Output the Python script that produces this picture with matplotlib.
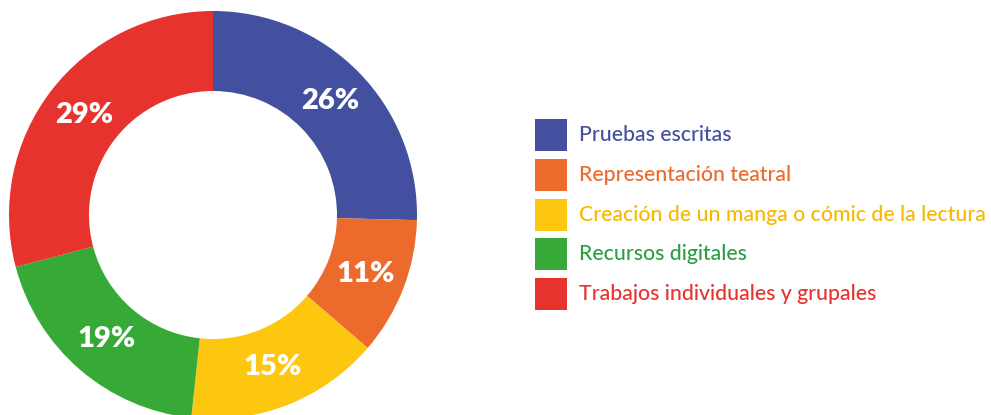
import matplotlib
matplotlib.use("Agg")
import matplotlib.pyplot as plt
import matplotlib.patches as mpatches
import numpy as np

categories = [
    "Pruebas escritas",
    "Representación teatral",
    "Creación de un manga o cómic de la lectura",
    "Recursos digitales",
    "Trabajos individuales y grupales",
]
# wedge sizes as measured on the ring; printed labels as shown
values = [25.4, 10.9, 15.4, 19.2, 29.1]
pct_labels = ["26%", "11%", "15%", "19%", "29%"]
colors = ["#42509F", "#EC6A2C", "#FDC70F", "#36A936", "#E6332D"]
text_colors = ["#42509F", "#EC6A2C", "#F7B800", "#2E9E45", "#E6332D"]

plt.rcParams['font.family'] = ['Lato', 'DejaVu Sans']

W, H = 991, 415
fig = plt.figure(figsize=(W / 100, H / 100), dpi=100)

# donut: center (213, 215) px, outer radius 204 px
cx, cy, r = 213, 215, 204
ax = fig.add_axes([(cx - r) / W, (H - cy - r) / H, 2 * r / W, 2 * r / H])
wedges, _ = ax.pie(
    values,
    colors=colors,
    startangle=90,
    counterclock=False,
    radius=1.0,
    wedgeprops=dict(width=80 / 204, linewidth=0),
)
for w, lab in zip(wedges, pct_labels):
    ang = np.deg2rad((w.theta1 + w.theta2) / 2)
    ax.text(0.80 * np.cos(ang), 0.80 * np.sin(ang), lab, color="white",
            fontsize=21, fontweight="heavy", ha="center", va="center")
ax.set_xlim(-1, 1)
ax.set_ylim(-1, 1)
ax.set_aspect("auto")
ax.axis("off")

# legend drawn by hand in pixel coordinates
lax = fig.add_axes([0, 0, 1, 1])
lax.set_xlim(0, W)
lax.set_ylim(H, 0)
lax.axis("off")
for i, (cat, col, tcol) in enumerate(zip(categories, colors, text_colors)):
    y0 = 119 + i * 39.8
    lax.add_patch(mpatches.Rectangle((535, y0), 32, 32, color=col, lw=0))
    lax.text(579, y0 + 16, cat, color=tcol, fontsize=15.3, fontweight="medium",
             va="center", ha="left")

fig.savefig("out.png", dpi=100)
